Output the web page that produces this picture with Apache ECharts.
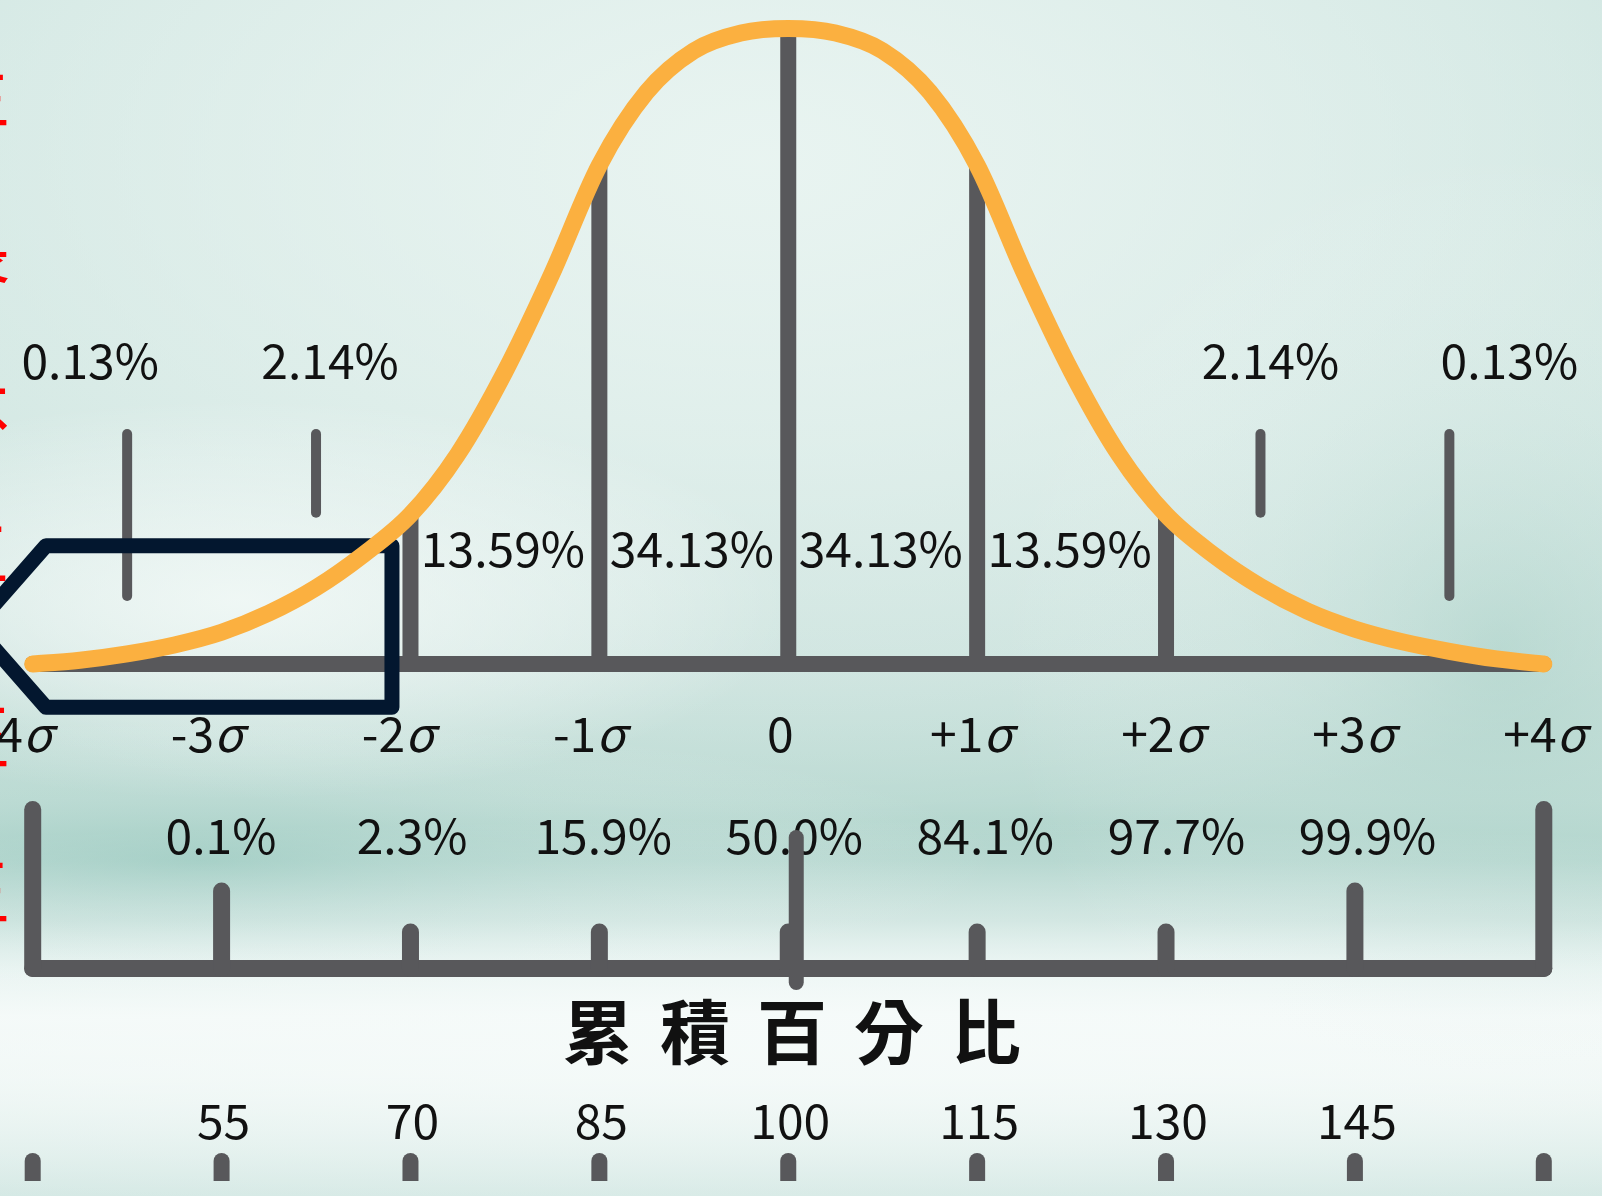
<!DOCTYPE html>
<html>
<head>
<meta charset="utf-8">
<title>累積百分比</title>
<script src="https://cdn.jsdelivr.net/npm/echarts/dist/echarts.min.js"></script>
<style>
  html, body { margin: 0; padding: 0; }
  #chart { width: 1602px; height: 1196px; }
</style>
</head>
<body>
<div id="chart"></div>
<script>
// ---- data ----
var sigmaTicks  = [-4, -3, -2, -1, 0, 1, 2, 3, 4];
var sigmaLabels = ['-4σ', '-3σ', '-2σ', '-1σ', '0', '+1σ', '+2σ', '+3σ', '+4σ'];
var cumPercent  = ['', '0.1%', '2.3%', '15.9%', '50.0%', '84.1%', '97.7%', '99.9%', ''];
var iqScores    = ['', '55', '70', '85', '100', '115', '130', '145', ''];
var bandCenters = [-1.5, -0.5, 0.5, 1.5];
var bandPercent = ['13.59%', '34.13%', '34.13%', '13.59%'];
var tailCenters = [-3.5, -2.5, 2.5, 3.5];
var tailPercent = ['0.13%', '2.14%', '2.14%', '0.13%'];
var dividerSigma = [-2, -1, 0, 1, 2];
// curve height (peak = 1) at every quarter sigma
var curveSigma  = [-4, -3.75, -3.5, -3.25, -3, -2.75, -2.5, -2.25, -2, -1.75, -1.5, -1.25, -1, -0.75, -0.5, -0.25, 0,
                   0.25, 0.5, 0.75, 1, 1.25, 1.5, 1.75, 2, 2.25, 2.5, 2.75, 3, 3.25, 3.5, 3.75, 4];
var curveHeight = [0, 0.006, 0.016, 0.03, 0.05, 0.08, 0.12, 0.172, 0.235, 0.33, 0.46, 0.615, 0.785, 0.9, 0.965, 0.993, 1,
                   0.993, 0.965, 0.9, 0.785, 0.615, 0.46, 0.33, 0.235, 0.172, 0.122, 0.083, 0.055, 0.035, 0.02, 0.008, 0];
var titleText = '累積百分比';
var sideText = ['生', '長', '不', '三', '正', '王'];

var GREY = '#58585b', ORANGE = '#fbb040', NAVY = '#03172f', INK = '#111111';
var FONT = '"Noto Sans CJK TC", "Noto Sans", sans-serif';

function heightAt(s) {
  return curveHeight[curveSigma.indexOf(s)];
}

function txt(str, x, y, size, extra) {
  var st = { text: str, x: 0, y: 0, fill: INK, fontSize: size, fontFamily: FONT, align: 'center', verticalAlign: 'middle' };
  if (extra) for (var k in extra) st[k] = extra[k];
  return { type: 'text', x: x, y: y, style: st };
}

function sigmaRich(label) {
  if (label.charAt(label.length - 1) === 'σ') {
    return '{n|' + label.slice(0, -1) + '}{s|σ}';
  }
  return '{n|' + label + '}';
}

// smooth path (catmull-rom as cubic beziers) through already projected points
function smoothPath(pts) {
  var d = 'M' + pts[0][0] + ',' + pts[0][1];
  for (var i = 0; i < pts.length - 1; i++) {
    var p0 = pts[Math.max(i - 1, 0)], p1 = pts[i], p2 = pts[i + 1], p3 = pts[Math.min(i + 2, pts.length - 1)];
    var c1x = p1[0] + (p2[0] - p0[0]) / 6, c1y = p1[1] + (p2[1] - p0[1]) / 6;
    var c2x = p2[0] - (p3[0] - p1[0]) / 6, c2y = p2[1] - (p3[1] - p1[1]) / 6;
    d += 'C' + c1x + ',' + c1y + ',' + c2x + ',' + c2y + ',' + p2[0] + ',' + p2[1];
  }
  return d;
}

var chart = echarts.init(document.getElementById('chart'));

// background: teal wash with a few soft highlights
function glow(cx, cy, rx, ry, color) {
  return {
    type: 'circle', x: cx, y: cy, scaleX: rx, scaleY: ry, silent: true, z: -90,
    shape: { cx: 0, cy: 0, r: 1 },
    style: { fill: { type: 'radial', x: 0.5, y: 0.5, r: 0.5,
      colorStops: [{ offset: 0, color: color }, { offset: 1, color: 'rgba(255,255,255,0)' }] } }
  };
}

var graphics = [
  { type: 'rect', silent: true, z: -100, shape: { x: 0, y: 0, width: 1602, height: 1196 },
    style: { fill: { type: 'linear', x: 0, y: 0, x2: 0, y2: 1, colorStops: [
      { offset: 0, color: '#c6e1db' },
      { offset: 0.35, color: '#c8e2dc' },
      { offset: 0.56, color: '#c3ded8' },
      { offset: 0.67, color: '#b7d8d0' },
      { offset: 0.72, color: '#aad1c8' },
      { offset: 0.77, color: '#b8d8d1' },
      { offset: 0.81, color: '#d9ece8' },
      { offset: 0.85, color: '#eef6f4' },
      { offset: 0.9, color: '#e8f3f0' },
      { offset: 1, color: '#cce4df' }
    ] } } },
  glow(760, 160, 1300, 700, 'rgba(236,246,243,0.9)'),
  glow(240, 600, 560, 200, 'rgba(244,250,248,0.85)'),
  glow(800, 1040, 2200, 220, 'rgba(246,251,250,0.9)'),
  glow(200, 860, 800, 140, 'rgba(150,200,190,0.45)'),
  glow(1500, 650, 500, 500, 'rgba(168,208,198,0.45)')
];

// title row
for (var t = 0; t < titleText.length; t++) {
  graphics.push(txt(titleText.charAt(t), 792 + (t - 2) * 97, 1032, 70, { fontWeight: 'bold' }));
}
// red vertical text, almost entirely cut off at the left edge
var sideY = [94, 250, 417, 553, 736, 891];
for (var r = 0; r < sideText.length; r++) {
  graphics.push(txt(sideText[r], 10, sideY[r], 72, { fill: '#ff0000', align: 'right' }));
}

var richStyle = {
  n: { fontSize: 48, fontFamily: FONT, fill: INK },
  s: { fontSize: 48, fontFamily: FONT, fill: INK, fontStyle: 'italic' }
};

var tailLabelDx = [-37, 14, 10, 60];

var option = {
  animation: false,
  grid: { left: 32.7, right: 58.2, top: 28.6, bottom: 532 },
  xAxis: { type: 'value', min: -4, max: 4, show: false },
  yAxis: { type: 'value', min: 0, max: 1, show: false },
  graphic: graphics,
  series: [
    { // baseline
      type: 'line', silent: true, clip: false, symbol: 'none', z: 2,
      data: [[-4, 0], [4, 0]],
      lineStyle: { color: GREY, width: 16, cap: 'round' }
    },
    { // sigma dividers up to the curve
      type: 'custom', coordinateSystem: 'cartesian2d', silent: true, z: 2,
      data: dividerSigma.map(function (s) { return [s, heightAt(s)]; }),
      renderItem: function (params, api) {
        var a = api.coord([api.value(0), 0]);
        var b = api.coord([api.value(0), api.value(1)]);
        return { type: 'line', shape: { x1: a[0], y1: a[1], x2: b[0], y2: b[1] },
          style: { stroke: GREY, lineWidth: 16 } };
      }
    },
    { // tail ticks + tail percentages
      type: 'custom', coordinateSystem: 'cartesian2d', silent: true, z: 2,
      data: tailCenters.map(function (s, i) { return [s, i]; }),
      renderItem: function (params, api) {
        var s = api.value(0), i = api.value(1);
        var top = api.coord([s, 0.362]);
        var bot = api.coord([s, Math.abs(s) > 3 ? 0.107 : 0.238]);
        return { type: 'group', children: [
          { type: 'line', shape: { x1: top[0], y1: top[1], x2: bot[0], y2: bot[1] },
            style: { stroke: GREY, lineWidth: 10, lineCap: 'round' } },
          txt(tailPercent[i], top[0] + tailLabelDx[i], 361, 48)
        ] };
      }
    },
    { // band percentages
      type: 'custom', coordinateSystem: 'cartesian2d', silent: true, z: 5,
      data: bandCenters.map(function (s, i) { return [s, i]; }),
      renderItem: function (params, api) {
        var p = api.coord([api.value(0), 0]);
        return txt(bandPercent[api.value(1)], p[0] - 2, p[1] - 115.4, 48);
      }
    },
    { // highlight box around the lower tail
      type: 'custom', coordinateSystem: 'cartesian2d', silent: true, z: 3,
      data: [[-3, 0]],
      renderItem: function (params, api) {
        var pts = [[-2.098, 0.186], [-3.93, 0.186], [-4.305, 0.059], [-3.93, -0.068], [-2.098, -0.068]]
          .map(function (q) { return api.coord(q); });
        return { type: 'polygon', shape: { points: pts },
          style: { fill: 'none', stroke: NAVY, lineWidth: 15, lineJoin: 'round' } };
      }
    },
    { // the curve, one smooth stroke through the read-off heights
      type: 'custom', coordinateSystem: 'cartesian2d', silent: true, z: 4,
      data: [[0, 1]],
      renderItem: function (params, api) {
        var pts = curveSigma.map(function (s, i) { return api.coord([s, curveHeight[i]]); });
        return { type: 'path', shape: { pathData: smoothPath(pts) },
          style: { fill: 'none', stroke: ORANGE, lineWidth: 17, lineCap: 'round', lineJoin: 'round' } };
      }
    },
    { // lower scales: sigma labels, cumulative %, bracket, IQ scores
      type: 'custom', coordinateSystem: 'cartesian2d', silent: true, z: 5,
      data: sigmaTicks.map(function (s, i) { return [s, i]; }),
      renderItem: function (params, api) {
        var s = api.value(0), i = api.value(1);
        var p = api.coord([s, 0]);
        var x = p[0], y0 = p[1];
        var kids = [];
        kids.push({ type: 'text', x: x - 8 + 2.2 * s, y: y0 + 69.6,
          style: { text: sigmaRich(sigmaLabels[i]), rich: richStyle, align: 'center', verticalAlign: 'middle' } });
        if (cumPercent[i]) kids.push(txt(cumPercent[i], x + 6 + 2.2 * s, y0 + 171.7, 48));
        var lineY = y0 + 304.6;
        if (s < 4) {
          var nx = api.coord([s + 1, 0])[0];
          kids.push({ type: 'line', shape: { x1: x, y1: lineY, x2: nx, y2: lineY },
            style: { stroke: GREY, lineWidth: 17, lineCap: 'round' } });
        }
        var a = Math.abs(s);
        var top = a === 4 ? 145.5 : (a === 3 ? 227 : 268);
        kids.push({ type: 'line', shape: { x1: x, y1: y0 + top, x2: x, y2: lineY },
          style: { stroke: GREY, lineWidth: 17, lineCap: 'round' } });
        if (s === 0) {
          kids.push({ type: 'line', shape: { x1: x + 8, y1: y0 + 173.5, x2: x + 8, y2: y0 + 318.5 },
            style: { stroke: GREY, lineWidth: 15, lineCap: 'round' } });
        }
        if (iqScores[i]) kids.push(txt(iqScores[i], x + 2, y0 + 457, 48));
        kids.push({ type: 'rect', shape: { x: x - 8, y: y0 + 489, width: 16, height: 28, r: [8, 8, 0, 0] },
          style: { fill: GREY } });
        return { type: 'group', children: kids };
      }
    }
  ]
};

chart.setOption(option);
</script>
</body>
</html>
